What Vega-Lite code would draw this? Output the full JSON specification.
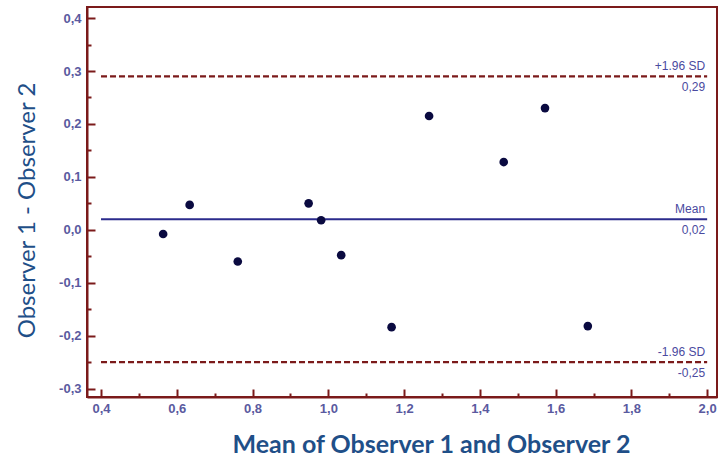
{
  "$schema": "https://vega.github.io/schema/vega-lite/v6.json",
  "width": 630,
  "height": 390,
  "autosize": "none",
  "padding": {"left": 87, "top": 7, "right": 2, "bottom": 62},
  "background": "white",
  "config": {
    "view": {"stroke": "#7b1a1a", "strokeWidth": 2},
    "axis": {
      "grid": false,
      "domainColor": "#7b1a1a",
      "domainWidth": 2,
      "tickColor": "#7b1a1a",
      "tickWidth": 2,
      "labelFont": "Liberation Sans",
      "labelFontWeight": "bold",
      "labelFontSize": 13,
      "labelColor": "#5a5aa0",
      "titleFont": "Lato",
      "titleColor": "#1f4f88",
      "titleFontSize": 24
    }
  },
  "datasets": {
    "points": [
      {"x": 0.564, "y": -0.008},
      {"x": 0.634, "y": 0.047},
      {"x": 0.761, "y": -0.060},
      {"x": 0.948, "y": 0.050},
      {"x": 0.981, "y": 0.018},
      {"x": 1.034, "y": -0.048},
      {"x": 1.167, "y": -0.184},
      {"x": 1.266, "y": 0.215},
      {"x": 1.463, "y": 0.128},
      {"x": 1.572, "y": 0.230},
      {"x": 1.685, "y": -0.182}
    ],
    "lines": [
      {"x": 0.4, "x2": 2.0, "y": 0.29, "kind": "limit"},
      {"x": 0.4, "x2": 2.0, "y": -0.25, "kind": "limit"},
      {"x": 0.4, "x2": 2.0, "y": 0.02, "kind": "mean"}
    ],
    "labels": [
      {"x": 2.0, "y": 0.29, "label": "+1.96 SD", "pos": "above"},
      {"x": 2.0, "y": 0.29, "label": "0,29", "pos": "below"},
      {"x": 2.0, "y": 0.02, "label": "Mean", "pos": "above"},
      {"x": 2.0, "y": 0.02, "label": "0,02", "pos": "below"},
      {"x": 2.0, "y": -0.25, "label": "-1.96 SD", "pos": "above"},
      {"x": 2.0, "y": -0.25, "label": "-0,25", "pos": "below"}
    ]
  },
  "encoding": {
    "x": {
      "field": "x",
      "type": "quantitative",
      "scale": {"domain": [0.363, 2.026], "nice": false, "zero": false},
      "axis": {
        "title": "Mean of Observer 1 and Observer 2",
        "titleFontWeight": "bold",
        "titleFontSize": 25,
        "titleX": 344,
        "titleY": 35,
        "values": [0.4, 0.5, 0.6, 0.7, 0.8, 0.9, 1.0, 1.1, 1.2, 1.3, 1.4, 1.5, 1.6, 1.7, 1.8, 1.9, 2.0],
        "labelExpr": "round(datum.value*10) % 2 == 0 ? replace(format(datum.value, '.1f'), '.', ',') : ''",
        "tickSize": {"condition": {"test": "round(datum.value*10) % 2 == 0", "value": -8}, "value": -4},
        "labelPadding": 13
      }
    },
    "y": {
      "field": "y",
      "type": "quantitative",
      "scale": {"domain": [-0.316, 0.421], "nice": false, "zero": false},
      "axis": {
        "title": "Observer 1 - Observer 2",
        "titleFontWeight": "normal",
        "titleX": -48,
        "titleY": 203,
        "values": [-0.3, -0.25, -0.2, -0.15, -0.1, -0.05, 0, 0.05, 0.1, 0.15, 0.2, 0.25, 0.3, 0.35, 0.4],
        "labelExpr": "abs(round(datum.value*100)) % 10 == 0 ? (datum.value < -0.001 ? '-' : '') + replace(format(abs(datum.value), '.1f'), '.', ',') : ''",
        "tickSize": {"condition": {"test": "abs(round(datum.value*100)) % 10 == 0", "value": -8}, "value": -4},
        "labelPadding": 14
      }
    }
  },
  "layer": [
    {
      "data": {"name": "lines"},
      "transform": [{"filter": "datum.kind == 'limit'"}],
      "mark": {"type": "rule", "color": "#7b1a1a", "strokeWidth": 2.2, "strokeDash": [6, 3]},
      "encoding": {"x2": {"field": "x2"}}
    },
    {
      "data": {"name": "lines"},
      "transform": [{"filter": "datum.kind == 'mean'"}],
      "mark": {"type": "rule", "color": "#2b2b8c", "strokeWidth": 2},
      "encoding": {"x2": {"field": "x2"}}
    },
    {
      "data": {"name": "points"},
      "mark": {"type": "point", "filled": true, "color": "#0a0a40", "size": 75, "opacity": 1}
    },
    {
      "data": {"name": "labels"},
      "transform": [{"filter": "datum.pos == 'above'"}],
      "mark": {"type": "text", "align": "right", "baseline": "middle", "dy": -10, "dx": -2, "font": "Liberation Sans", "fontSize": 12, "color": "#4a4aa0"},
      "encoding": {"text": {"field": "label"}}
    },
    {
      "data": {"name": "labels"},
      "transform": [{"filter": "datum.pos == 'below'"}],
      "mark": {"type": "text", "align": "right", "baseline": "middle", "dy": 11, "dx": -2, "font": "Liberation Sans", "fontSize": 12, "color": "#4a4aa0"},
      "encoding": {"text": {"field": "label"}}
    }
  ]
}
